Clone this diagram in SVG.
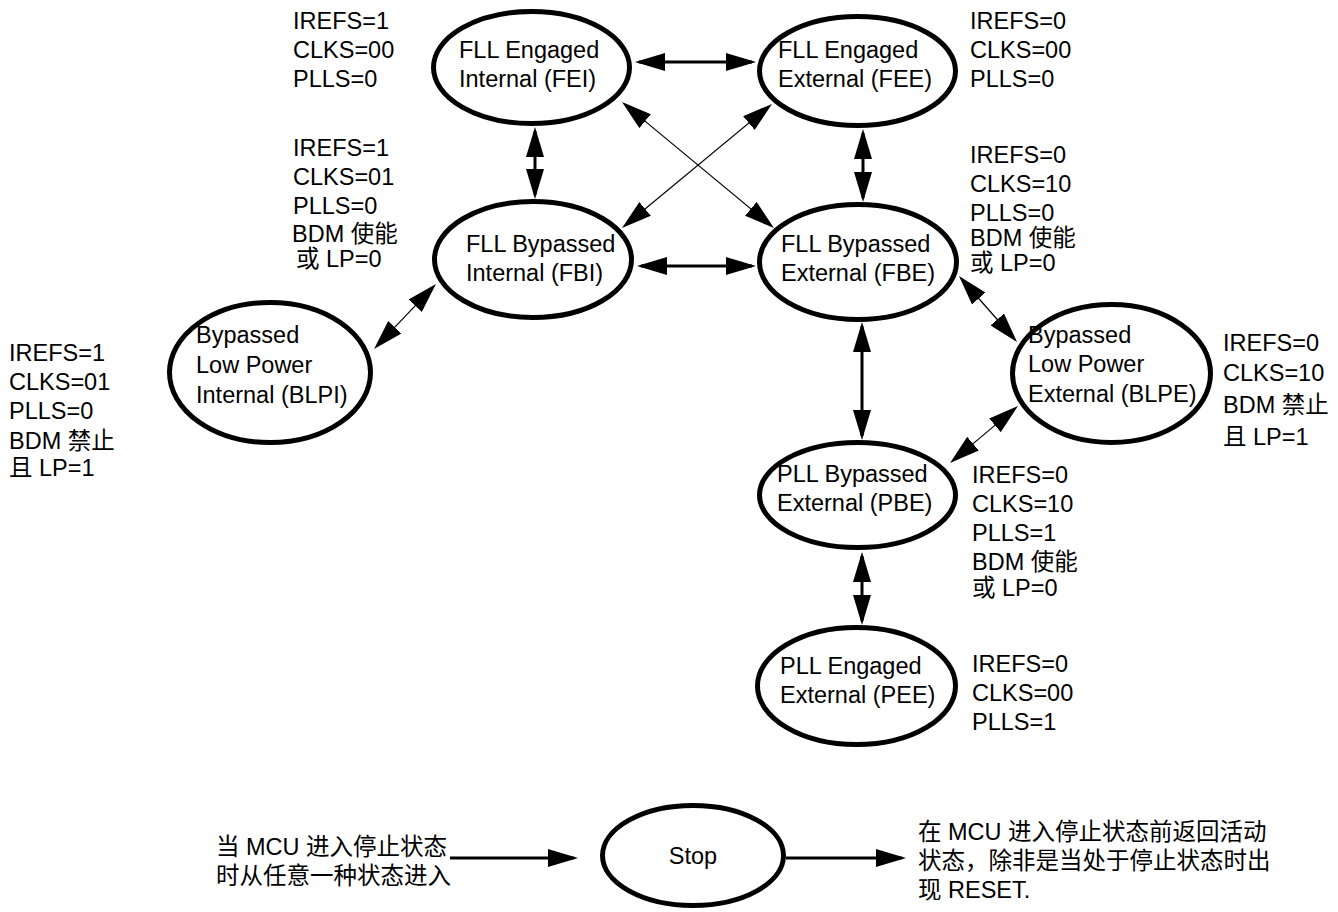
<svg xmlns="http://www.w3.org/2000/svg" width="1338" height="912" viewBox="0 0 1338 912">
<style>
text{font-family:"Liberation Sans","Noto Sans CJK SC",sans-serif;font-size:23.5px;fill:#000}
.st{fill:#fff;stroke:#000;stroke-width:5}
.thick{stroke:#000;stroke-width:3;fill:none}
.thin{stroke:#000;stroke-width:1.2;fill:none}
.bi{marker-start:url(#ah);marker-end:url(#ah)}
.one{marker-end:url(#ah)}
</style>
<defs>
<marker id="ah" viewBox="0 0 30 18" refX="26" refY="9" markerWidth="30" markerHeight="18" markerUnits="userSpaceOnUse" orient="auto-start-reverse">
<path d="M0,0 L30,9 L0,18 Z" fill="#000"/>
</marker>
</defs>
<rect width="1338" height="912" fill="#fff"/>

<g id="connectors">
<line class="thick bi" x1="639" y1="62" x2="752" y2="62"/>
<line class="thick bi" x1="535" y1="131" x2="535" y2="195"/>
<line class="thick bi" x1="863" y1="133" x2="863" y2="198"/>
<line class="thick bi" x1="641" y1="266" x2="752" y2="266"/>
<line class="thin bi" x1="625.1" y1="104.6" x2="770.9" y2="225.4"/>
<line class="thin bi" x1="768.9" y1="106.5" x2="625.1" y2="225.5"/>
<line class="thin bi" x1="433.2" y1="286.9" x2="376.8" y2="346.1"/>
<line class="thin bi" x1="961.6" y1="279" x2="1014.4" y2="339"/>
<line class="thick bi" x1="862" y1="326" x2="862" y2="436"/>
<line class="thin bi" x1="1014.9" y1="408.6" x2="953.1" y2="460.4"/>
<line class="thick bi" x1="862" y1="556" x2="862" y2="621"/>
<line class="thick one" x1="450" y1="858" x2="574" y2="858"/>
<line class="thick one" x1="786" y1="858" x2="902" y2="858"/>
</g>

<g id="FEI">
<ellipse class="st" cx="531.5" cy="67.5" rx="98" ry="56"/>
<text x="459" y="58">FLL Engaged</text>
<text x="459" y="87">Internal (FEI)</text>
<text x="293" y="29">IREFS=1</text>
<text x="293" y="58">CLKS=00</text>
<text x="293" y="87">PLLS=0</text>
</g>

<g id="FEE">
<ellipse class="st" cx="857.5" cy="71" rx="98" ry="54.5"/>
<text x="778" y="58">FLL Engaged</text>
<text x="778" y="87">External (FEE)</text>
<text x="970" y="29">IREFS=0</text>
<text x="970" y="58">CLKS=00</text>
<text x="970" y="87">PLLS=0</text>
</g>

<g id="FBI">
<ellipse class="st" cx="533" cy="259.5" rx="98.5" ry="58"/>
<text x="466" y="252">FLL Bypassed</text>
<text x="466" y="281">Internal (FBI)</text>
<text x="293" y="156">IREFS=1</text>
<text x="293" y="185">CLKS=01</text>
<text x="293" y="214">PLLS=0</text>
<text x="292" y="242">BDM 使能</text>
<text x="296" y="267">或 LP=0</text>
</g>

<g id="FBE">
<ellipse class="st" cx="858" cy="262" rx="98.5" ry="57.5"/>
<text x="781" y="252">FLL Bypassed</text>
<text x="781" y="281">External (FBE)</text>
<text x="970" y="163">IREFS=0</text>
<text x="970" y="192">CLKS=10</text>
<text x="970" y="221">PLLS=0</text>
<text x="970" y="246">BDM 使能</text>
<text x="970" y="271">或 LP=0</text>
</g>

<g id="BLPI">
<ellipse class="st" cx="270" cy="372.5" rx="100.5" ry="70"/>
<text x="196" y="343">Bypassed</text>
<text x="196" y="373">Low Power</text>
<text x="196" y="403">Internal (BLPI)</text>
<text x="9" y="361">IREFS=1</text>
<text x="9" y="390">CLKS=01</text>
<text x="9" y="419">PLLS=0</text>
<text x="9" y="449">BDM 禁止</text>
<text x="9" y="476">且 LP=1</text>
</g>

<g id="BLPE">
<ellipse class="st" cx="1111.5" cy="373.5" rx="99" ry="69"/>
<text x="1028" y="343">Bypassed</text>
<text x="1028" y="372">Low Power</text>
<text x="1028" y="402">External (BLPE)</text>
<text x="1223" y="351">IREFS=0</text>
<text x="1223" y="381">CLKS=10</text>
<text x="1223" y="413">BDM 禁止</text>
<text x="1223" y="445">且 LP=1</text>
</g>

<g id="PBE">
<ellipse class="st" cx="857.5" cy="495" rx="98" ry="52.5"/>
<text x="777" y="482">PLL Bypassed</text>
<text x="777" y="511">External (PBE)</text>
<text x="972" y="483">IREFS=0</text>
<text x="972" y="512">CLKS=10</text>
<text x="972" y="541">PLLS=1</text>
<text x="972" y="570">BDM 使能</text>
<text x="972" y="596">或 LP=0</text>
</g>

<g id="PEE">
<ellipse class="st" cx="856.5" cy="686" rx="99" ry="58.5"/>
<text x="780" y="674">PLL Engaged</text>
<text x="780" y="703">External (PEE)</text>
<text x="972" y="672">IREFS=0</text>
<text x="972" y="701">CLKS=00</text>
<text x="972" y="730">PLLS=1</text>
</g>

<g id="Stop">
<ellipse class="st" cx="693" cy="855.5" rx="90.5" ry="50"/>
<text x="693" y="864" text-anchor="middle" font-size="22">Stop</text>
</g>

<g id="note-enter">
<text x="216" y="855">当 MCU 进入停止状态</text>
<text x="216" y="884">时从任意一种状态进入</text>
</g>

<g id="note-return">
<text x="918" y="840">在 MCU 进入停止状态前返回活动</text>
<text x="918" y="869">状态，除非是当处于停止状态时出</text>
<text x="918" y="898">现 RESET.</text>
</g>
</svg>
